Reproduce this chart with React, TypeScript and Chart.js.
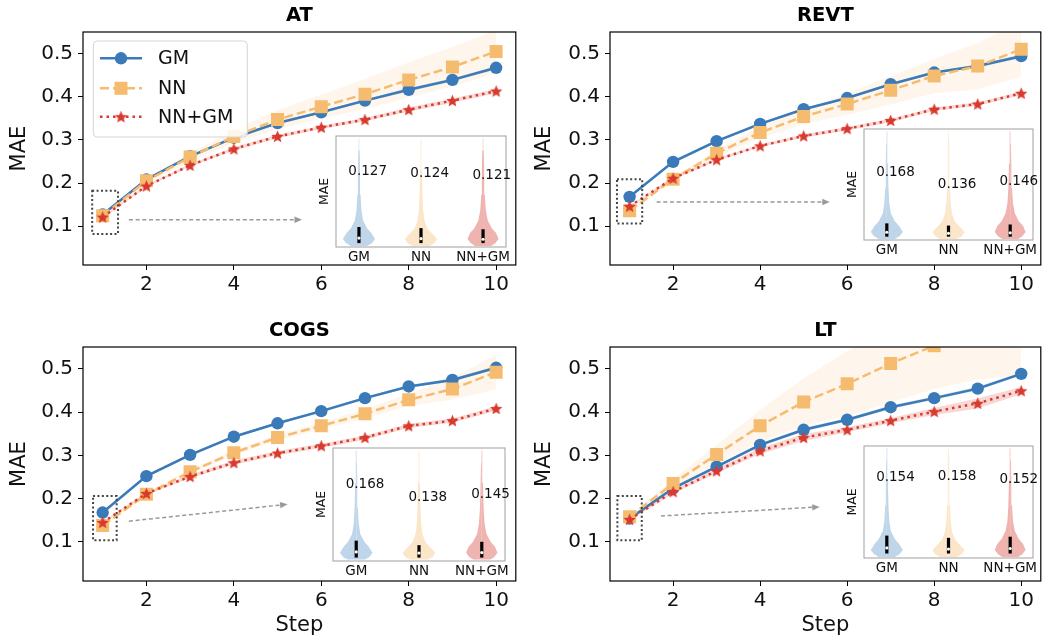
import React, { useEffect, useRef } from 'react';
import { Chart, registerables } from 'chart.js';

Chart.register(...registerables);
Chart.defaults.font.family = "'DejaVu Sans', sans-serif";
Chart.defaults.color = '#111';

// ---------------- data ----------------
const steps = [1, 2, 3, 4, 5, 6, 7, 8, 9, 10];
const methodNames = ['GM', 'NN', 'NN+GM'];
const yTickValues = [0.1, 0.2, 0.3, 0.4, 0.5];
const xTickValues = [2, 4, 6, 8, 10];

// AT
const atGM = [0.127, 0.208, 0.262, 0.305, 0.339, 0.364, 0.391, 0.416, 0.439, 0.467];
const atNN = [0.124, 0.205, 0.26, 0.308, 0.347, 0.377, 0.406, 0.439, 0.469, 0.505];
const atNNGM = [0.121, 0.193, 0.241, 0.279, 0.308, 0.329, 0.347, 0.37, 0.391, 0.413];
const atGMStd = [0.002, 0.003, 0.003, 0.003, 0.003, 0.003, 0.003, 0.004, 0.004, 0.004];
const atNNStd = [0.003, 0.006, 0.01, 0.015, 0.022, 0.028, 0.035, 0.041, 0.046, 0.05];
const atNNGMStd = [0.002, 0.003, 0.003, 0.004, 0.004, 0.004, 0.004, 0.005, 0.005, 0.005];

// REVT
const revtGM = [0.168, 0.249, 0.297, 0.337, 0.371, 0.397, 0.429, 0.456, 0.471, 0.494];
const revtNN = [0.136, 0.209, 0.269, 0.317, 0.354, 0.383, 0.415, 0.448, 0.471, 0.51];
const revtNNGM = [0.146, 0.211, 0.254, 0.286, 0.309, 0.326, 0.345, 0.371, 0.383, 0.408];
const revtGMStd = [0.002, 0.003, 0.003, 0.003, 0.003, 0.003, 0.003, 0.003, 0.004, 0.004];
const revtNNStd = [0.003, 0.004, 0.008, 0.013, 0.017, 0.025, 0.033, 0.04, 0.054, 0.064];
const revtNNGMStd = [0.002, 0.003, 0.003, 0.003, 0.004, 0.004, 0.004, 0.004, 0.004, 0.004];

// COGS
const cogsGM = [0.168, 0.252, 0.301, 0.343, 0.374, 0.402, 0.432, 0.459, 0.474, 0.502];
const cogsNN = [0.138, 0.21, 0.262, 0.306, 0.341, 0.368, 0.396, 0.428, 0.453, 0.492];
const cogsNNGM = [0.145, 0.212, 0.251, 0.283, 0.305, 0.322, 0.341, 0.368, 0.38, 0.408];
const cogsGMStd = [0.002, 0.003, 0.003, 0.003, 0.003, 0.003, 0.003, 0.003, 0.004, 0.004];
const cogsNNStd = [0.003, 0.004, 0.005, 0.006, 0.007, 0.008, 0.011, 0.014, 0.025, 0.04];
const cogsNNGMStd = [0.002, 0.003, 0.004, 0.005, 0.005, 0.005, 0.005, 0.005, 0.005, 0.005];

// LT
const ltGM = [0.154, 0.224, 0.274, 0.324, 0.359, 0.382, 0.411, 0.432, 0.454, 0.488];
const ltNN = [0.158, 0.235, 0.302, 0.368, 0.423, 0.465, 0.512, 0.553, 0.59, 0.63];
const ltNNGM = [0.152, 0.216, 0.264, 0.31, 0.341, 0.359, 0.38, 0.401, 0.42, 0.449];
const ltGMStd = [0.002, 0.003, 0.003, 0.004, 0.004, 0.004, 0.004, 0.004, 0.004, 0.004];
const ltNNStd = [0.005, 0.01, 0.022, 0.037, 0.055, 0.075, 0.09, 0.1, 0.115, 0.145];
const ltNNGMStd = [0.003, 0.004, 0.006, 0.007, 0.008, 0.006, 0.006, 0.008, 0.012, 0.008];

// violin (inset) profile: levels and half widths
const violinLevels = [0.01, 0.036, 0.072, 0.126, 0.17, 0.24, 0.33, 0.47, 0.69, 0.87, 0.98];
const violinGM = [0.13, 0.21, 0.26, 0.2, 0.13, 0.065, 0.04, 0.026, 0.017, 0.011, 0.004];
const violinNN = [0.14, 0.22, 0.26, 0.17, 0.1, 0.055, 0.035, 0.023, 0.015, 0.009, 0.003];
const violinNNGM = [0.13, 0.2, 0.25, 0.21, 0.14, 0.075, 0.045, 0.029, 0.019, 0.012, 0.004];

const atInsetText = ['0.127', '0.124', '0.121'];
const atInsetTextY = [0.68, 0.66, 0.64];
const atInsetQ1 = [0.035, 0.035, 0.035];
const atInsetQ3 = [0.18, 0.17, 0.16];
const atInsetMed = [0.08, 0.075, 0.07];

const revtInsetText = ['0.168', '0.136', '0.146'];
const revtInsetTextY = [0.61, 0.5, 0.53];
const revtInsetQ1 = [0.03, 0.03, 0.03];
const revtInsetQ3 = [0.15, 0.13, 0.14];
const revtInsetMed = [0.07, 0.06, 0.065];

const cogsInsetText = ['0.168', '0.138', '0.145'];
const cogsInsetTextY = [0.68, 0.56, 0.59];
const cogsInsetQ1 = [0.03, 0.03, 0.03];
const cogsInsetQ3 = [0.18, 0.14, 0.17];
const cogsInsetMed = [0.08, 0.07, 0.075];

const ltInsetText = ['0.154', '0.158', '0.152'];
const ltInsetTextY = [0.72, 0.73, 0.7];
const ltInsetQ1 = [0.04, 0.04, 0.04];
const ltInsetQ3 = [0.2, 0.18, 0.19];
const ltInsetMed = [0.09, 0.08, 0.085];

// zoom box [x0,x1,y0,y1] and arrow [x0,y0,x1,y1] in data units
const atBox = [0.76, 1.35, 0.082, 0.182];
const atArrow = [1.6, 0.115, 5.56, 0.115];
const revtBox = [0.71, 1.29, 0.106, 0.209];
const revtArrow = [1.62, 0.156, 5.6, 0.156];
const cogsBox = [0.78, 1.32, 0.104, 0.206];
const cogsArrow = [1.6, 0.148, 5.23, 0.187];
const ltBox = [0.72, 1.28, 0.104, 0.206];
const ltArrow = [1.72, 0.16, 5.37, 0.181];

// ---------------- styles ----------------
const C_GM = '#3a7ab8';
const C_NN = '#f5bc6f';
const C_R = '#d93a2e';
const BAND = ['rgba(58,122,184,0.25)', 'rgba(245,188,111,0.13)', 'rgba(217,58,46,0.2)'];
const VIOLIN_COL = ['#bfd5ea', '#fbe6c9', '#efb3b0'];
const FONT = "'DejaVu Sans', sans-serif";

type PanelCfg = {
  title: string;
  series: number[][];
  stds: number[][];
  box: number[];
  arrow: number[];
  legend: boolean;
  xTitle: boolean;
  cx: number; cy: number; cw: number; ch: number;
  L: number; T: number; R: number; XH: number;
  inset: {
    left: number; top: number; w: number; h: number;
    text: string[]; textY: number[]; q1: number[]; q3: number[]; med: number[];
  };
};

const panels: PanelCfg[] = [
  {
    title: 'AT', series: [atGM, atNN, atNNGM], stds: [atGMStd, atNNStd, atNNGMStd],
    box: atBox, arrow: atArrow, legend: true, xTitle: false,
    cx: 0, cy: 0, cw: 525, ch: 300, L: 83, T: 32, R: 4, XH: 35,
    inset: { left: 336, top: 136, w: 170, h: 111, text: atInsetText, textY: atInsetTextY, q1: atInsetQ1, q3: atInsetQ3, med: atInsetMed },
  },
  {
    title: 'REVT', series: [revtGM, revtNN, revtNNGM], stds: [revtGMStd, revtNNStd, revtNNGMStd],
    box: revtBox, arrow: revtArrow, legend: false, xTitle: false,
    cx: 525, cy: 0, cw: 525, ch: 300, L: 85, T: 32, R: 3, XH: 35,
    inset: { left: 864, top: 129, w: 169, h: 111, text: revtInsetText, textY: revtInsetTextY, q1: revtInsetQ1, q3: revtInsetQ3, med: revtInsetMed },
  },
  {
    title: 'COGS', series: [cogsGM, cogsNN, cogsNNGM], stds: [cogsGMStd, cogsNNStd, cogsNNGMStd],
    box: cogsBox, arrow: cogsArrow, legend: false, xTitle: true,
    cx: 0, cy: 300, cw: 525, ch: 343, L: 83, T: 47, R: 4, XH: 62,
    inset: { left: 333, top: 448, w: 172, h: 113, text: cogsInsetText, textY: cogsInsetTextY, q1: cogsInsetQ1, q3: cogsInsetQ3, med: cogsInsetMed },
  },
  {
    title: 'LT', series: [ltGM, ltNN, ltNNGM], stds: [ltGMStd, ltNNStd, ltNNGMStd],
    box: ltBox, arrow: ltArrow, legend: false, xTitle: true,
    cx: 525, cy: 300, cw: 525, ch: 343, L: 85, T: 47, R: 3, XH: 62,
    inset: { left: 864, top: 446, w: 169, h: 112, text: ltInsetText, textY: ltInsetTextY, q1: ltInsetQ1, q3: ltInsetQ3, med: ltInsetMed },
  },
];

function makeStar(color: string, r: number): HTMLCanvasElement {
  const size = Math.ceil(r * 2 + 2);
  const c = document.createElement('canvas');
  c.width = size;
  c.height = size;
  const g = c.getContext('2d')!;
  g.fillStyle = color;
  g.beginPath();
  for (let k = 0; k < 10; k++) {
    const ang = -Math.PI / 2 + (k * Math.PI) / 5;
    const rr = k % 2 === 0 ? r : r * 0.45;
    const px = size / 2 + rr * Math.cos(ang);
    const py = size / 2 + 0.6 + rr * Math.sin(ang);
    if (k === 0) g.moveTo(px, py);
    else g.lineTo(px, py);
  }
  g.closePath();
  g.fill();
  return c;
}

function drawMarker(ctx: CanvasRenderingContext2D, idx: number, x: number, y: number, star: HTMLCanvasElement) {
  if (idx === 0) {
    ctx.fillStyle = C_GM;
    ctx.beginPath();
    ctx.arc(x, y, 6.2, 0, Math.PI * 2);
    ctx.fill();
  } else if (idx === 1) {
    ctx.fillStyle = C_NN;
    ctx.fillRect(x - 6.5, y - 6.5, 13, 13);
  } else {
    ctx.drawImage(star, x - star.width / 2, y - star.height / 2);
  }
}

const LINE_COLORS = [C_GM, C_NN, C_R];
const LINE_DASH = [[], [9, 4], [2.5, 4]];

function MainPanel({ p }: { p: PanelCfg }) {
  const ref = useRef<HTMLCanvasElement>(null);
  useEffect(() => {
    const star = makeStar(C_R, 6.5);
    const styles: any[] = ['circle', 'rect', star];
    const radii = [6.2, 9.2, 7];
    const datasets: any[] = [];
    p.series.forEach((vals, i) => {
      const sd = p.stds[i];
      datasets.push({
        data: steps.map((x, k) => ({ x, y: vals[k] - sd[k] })),
        borderColor: 'rgba(0,0,0,0)', borderWidth: 0, pointRadius: 0, fill: false, order: 20 - i,
      });
      datasets.push({
        data: steps.map((x, k) => ({ x, y: vals[k] + sd[k] })),
        borderColor: 'rgba(0,0,0,0)', borderWidth: 0, pointRadius: 0, fill: '-1',
        backgroundColor: BAND[i], order: 20 - i,
      });
    });
    p.series.forEach((vals, i) => {
      datasets.push({
        data: steps.map((x, k) => ({ x, y: vals[k] })),
        borderColor: LINE_COLORS[i],
        borderWidth: 2.5,
        borderDash: LINE_DASH[i],
        borderCapStyle: 'butt',
        pointStyle: styles[i],
        pointRadius: radii[i],
        pointBackgroundColor: LINE_COLORS[i],
        pointBorderColor: LINE_COLORS[i],
        pointBorderWidth: 0,
        fill: false,
        order: 3 - i,
      });
    });

    const decor = {
      id: 'decor',
      afterDatasetsDraw(chart: any) {
        const { ctx, chartArea: a } = chart;
        const xs = chart.scales.x;
        const ys = chart.scales.y;
        ctx.save();
        // dotted zoom box
        const X0 = xs.getPixelForValue(p.box[0]);
        const X1 = xs.getPixelForValue(p.box[1]);
        const Y0 = ys.getPixelForValue(p.box[3]);
        const Y1 = ys.getPixelForValue(p.box[2]);
        ctx.strokeStyle = '#444';
        ctx.lineWidth = 2;
        ctx.setLineDash([2, 2.4]);
        ctx.beginPath();
        ctx.rect(X0, Y0, X1 - X0, Y1 - Y0);
        ctx.stroke();
        // arrow
        const ax0 = xs.getPixelForValue(p.arrow[0]);
        const ay0 = ys.getPixelForValue(p.arrow[1]);
        const ax1 = xs.getPixelForValue(p.arrow[2]);
        const ay1 = ys.getPixelForValue(p.arrow[3]);
        const ang = Math.atan2(ay1 - ay0, ax1 - ax0);
        const head = 7.5;
        const lx = ax1 - head * Math.cos(ang);
        const ly = ay1 - head * Math.sin(ang);
        ctx.strokeStyle = '#999';
        ctx.lineWidth = 1.5;
        ctx.setLineDash([4, 2.7]);
        ctx.beginPath();
        ctx.moveTo(ax0, ay0);
        ctx.lineTo(lx, ly);
        ctx.stroke();
        ctx.setLineDash([]);
        ctx.fillStyle = '#999';
        ctx.beginPath();
        ctx.moveTo(ax1, ay1);
        ctx.lineTo(lx + 3.2 * Math.sin(ang), ly - 3.2 * Math.cos(ang));
        ctx.lineTo(lx - 3.2 * Math.sin(ang), ly + 3.2 * Math.cos(ang));
        ctx.closePath();
        ctx.fill();
        // frame
        ctx.strokeStyle = '#000';
        ctx.lineWidth = 1.2;
        ctx.strokeRect(a.left, a.top, a.right - a.left, a.bottom - a.top);
        // title
        ctx.fillStyle = '#000';
        ctx.font = `bold 19.5px ${FONT}`;
        ctx.textAlign = 'center';
        ctx.textBaseline = 'middle';
        ctx.fillText(p.title, (a.left + a.right) / 2, a.top - 16);
        // legend
        if (p.legend) {
          const lx0 = a.left + 10.3;
          const ly0 = a.top + 9;
          const w = 154;
          const h = 96;
          ctx.fillStyle = 'rgba(255,255,255,0.85)';
          ctx.strokeStyle = '#d4d4d4';
          ctx.lineWidth = 1;
          ctx.beginPath();
          (ctx as any).roundRect(lx0, ly0, w, h, 4);
          ctx.fill();
          ctx.stroke();
          const rows = [26.3, 56.3, 84.7];
          methodNames.forEach((name, i) => {
            const yy = a.top + rows[i];
            ctx.strokeStyle = LINE_COLORS[i];
            ctx.lineWidth = 2.5;
            ctx.lineCap = 'butt';
            ctx.setLineDash(LINE_DASH[i]);
            ctx.beginPath();
            ctx.moveTo(a.left + 17, yy);
            ctx.lineTo(a.left + 59, yy);
            ctx.stroke();
            ctx.setLineDash([]);
            drawMarker(ctx, i, a.left + 38, yy, star);
            ctx.fillStyle = '#111';
            ctx.font = `19px ${FONT}`;
            ctx.textAlign = 'left';
            ctx.textBaseline = 'middle';
            ctx.fillText(name, a.left + 75, yy + 1);
          });
        }
        ctx.restore();
      },
    };

    const chart = new Chart(ref.current!, {
      type: 'line',
      data: { datasets },
      options: {
        animation: false,
        responsive: false,
        events: [],
        layout: { padding: { top: p.T, right: p.R, left: 0, bottom: 0 } },
        plugins: { legend: { display: false }, tooltip: { enabled: false }, title: { display: false } },
        scales: {
          x: {
            type: 'linear',
            min: 0.55,
            max: 10.45,
            afterBuildTicks: (s: any) => { s.ticks = xTickValues.map((v) => ({ value: v })); },
            afterFit: (s: any) => { s.height = p.XH; },
            ticks: { font: { size: 20 }, color: '#111', padding: 3, maxRotation: 0, autoSkip: false, callback: (v: any) => String(v) },
            grid: { display: true, drawOnChartArea: false, drawTicks: true, tickLength: 5, color: '#000', lineWidth: 1 },
            border: { display: false },
            title: { display: p.xTitle, text: 'Step', font: { size: 21 }, color: '#111', padding: { top: 0, bottom: 5 } },
          },
          y: {
            type: 'linear',
            min: 0.01,
            max: 0.55,
            afterBuildTicks: (s: any) => { s.ticks = yTickValues.map((v) => ({ value: v })); },
            afterFit: (s: any) => { s.width = p.L; },
            ticks: { font: { size: 20 }, color: '#111', padding: 5, callback: (v: any) => Number(v).toFixed(1) },
            grid: { display: true, drawOnChartArea: false, drawTicks: true, tickLength: 5, color: '#000', lineWidth: 1 },
            border: { display: false },
            title: { display: true, text: 'MAE', font: { size: 21 }, color: '#111', padding: { top: 7, bottom: 0 } },
          },
        },
      } as any,
      plugins: [decor],
    });
    return () => chart.destroy();
  }, []);
  return (
    <canvas
      ref={ref}
      width={p.cw}
      height={p.ch}
      style={{ position: 'absolute', left: p.cx, top: p.cy, width: p.cw, height: p.ch }}
    />
  );
}

const INSET_L = 30;
const INSET_T = 6;
const INSET_R = 16;
const INSET_B = 22;

function InsetPanel({ p }: { p: PanelCfg }) {
  const ref = useRef<HTMLCanvasElement>(null);
  const ins = p.inset;
  const cw = INSET_L + ins.w + INSET_R;
  const ch = INSET_T + ins.h + INSET_B;
  useEffect(() => {
    const profiles = [violinGM, violinNN, violinNNGM];
    const datasets: any[] = [];
    profiles.forEach((hw, i) => {
      [1, -1].forEach((sgn) => {
        datasets.push({
          data: violinLevels.map((y, k) => ({ x: i + sgn * hw[k], y })),
          borderColor: 'rgba(0,0,0,0)',
          borderWidth: 0,
          pointRadius: 0,
          fill: { value: i },
          backgroundColor: VIOLIN_COL[i],
          order: 5,
        });
      });
      datasets.push({
        data: [{ x: i, y: ins.q1[i] }, { x: i, y: ins.q3[i] }],
        borderColor: '#000',
        borderWidth: 3.2,
        borderCapStyle: 'butt',
        pointRadius: 0,
        fill: false,
        order: 2,
      });
      datasets.push({
        data: [{ x: i, y: ins.med[i] }],
        showLine: false,
        borderColor: 'rgba(0,0,0,0)',
        pointRadius: 1.6,
        pointBackgroundColor: '#fff',
        pointBorderWidth: 0,
        fill: false,
        order: 1,
      });
    });

    const insetDecor = {
      id: 'insetDecor',
      beforeDraw(chart: any) {
        const { ctx, chartArea: a } = chart;
        ctx.save();
        ctx.fillStyle = '#fff';
        ctx.fillRect(a.left, a.top, a.right - a.left, a.bottom - a.top);
        ctx.restore();
      },
      afterDatasetsDraw(chart: any) {
        const { ctx, chartArea: a } = chart;
        const xs = chart.scales.x;
        const ys = chart.scales.y;
        ctx.save();
        ctx.strokeStyle = '#a8a8a8';
        ctx.lineWidth = 1.1;
        ctx.strokeRect(a.left, a.top, a.right - a.left, a.bottom - a.top);
        ctx.fillStyle = '#111';
        ctx.font = `13.5px ${FONT}`;
        ctx.textAlign = 'center';
        ctx.textBaseline = 'middle';
        ins.text.forEach((t, i) => {
          ctx.fillText(t, xs.getPixelForValue(i + 0.14), ys.getPixelForValue(ins.textY[i]));
        });
        ctx.restore();
      },
    };

    const chart = new Chart(ref.current!, {
      type: 'line',
      data: { datasets },
      options: {
        indexAxis: 'y',
        animation: false,
        responsive: false,
        events: [],
        layout: { padding: { top: INSET_T, right: INSET_R, left: 0, bottom: 0 } },
        plugins: { legend: { display: false }, tooltip: { enabled: false } },
        scales: {
          x: {
            type: 'linear',
            min: -0.37,
            max: 2.37,
            afterBuildTicks: (s: any) => { s.ticks = [0, 1, 2].map((v) => ({ value: v })); },
            afterFit: (s: any) => { s.height = INSET_B; },
            ticks: { font: { size: 13.5 }, color: '#111', padding: 2, maxRotation: 0, autoSkip: false, callback: (v: any) => methodNames[Math.round(Number(v))] },
            grid: { display: false, drawTicks: false, tickLength: 0 },
            border: { display: false },
          },
          y: {
            type: 'linear',
            min: 0,
            max: 1,
            afterFit: (s: any) => { s.width = INSET_L; },
            ticks: { display: false },
            grid: { display: false, drawTicks: false, tickLength: 0 },
            border: { display: false },
            title: { display: true, text: 'MAE', font: { size: 12.5 }, color: '#111', padding: { top: 11, bottom: 0 } },
          },
        },
      } as any,
      plugins: [insetDecor],
    });
    return () => chart.destroy();
  }, []);
  return (
    <canvas
      ref={ref}
      width={cw}
      height={ch}
      style={{ position: 'absolute', left: ins.left - INSET_L, top: ins.top - INSET_T, width: cw, height: ch }}
    />
  );
}

export default function App() {
  return (
    <div style={{ position: 'absolute', left: 0, top: 0, width: 1050, height: 643, overflow: 'hidden', background: '#fff' }}>
      {panels.map((p) => (
        <MainPanel key={p.title} p={p} />
      ))}
      {panels.map((p) => (
        <InsetPanel key={'inset-' + p.title} p={p} />
      ))}
    </div>
  );
}
